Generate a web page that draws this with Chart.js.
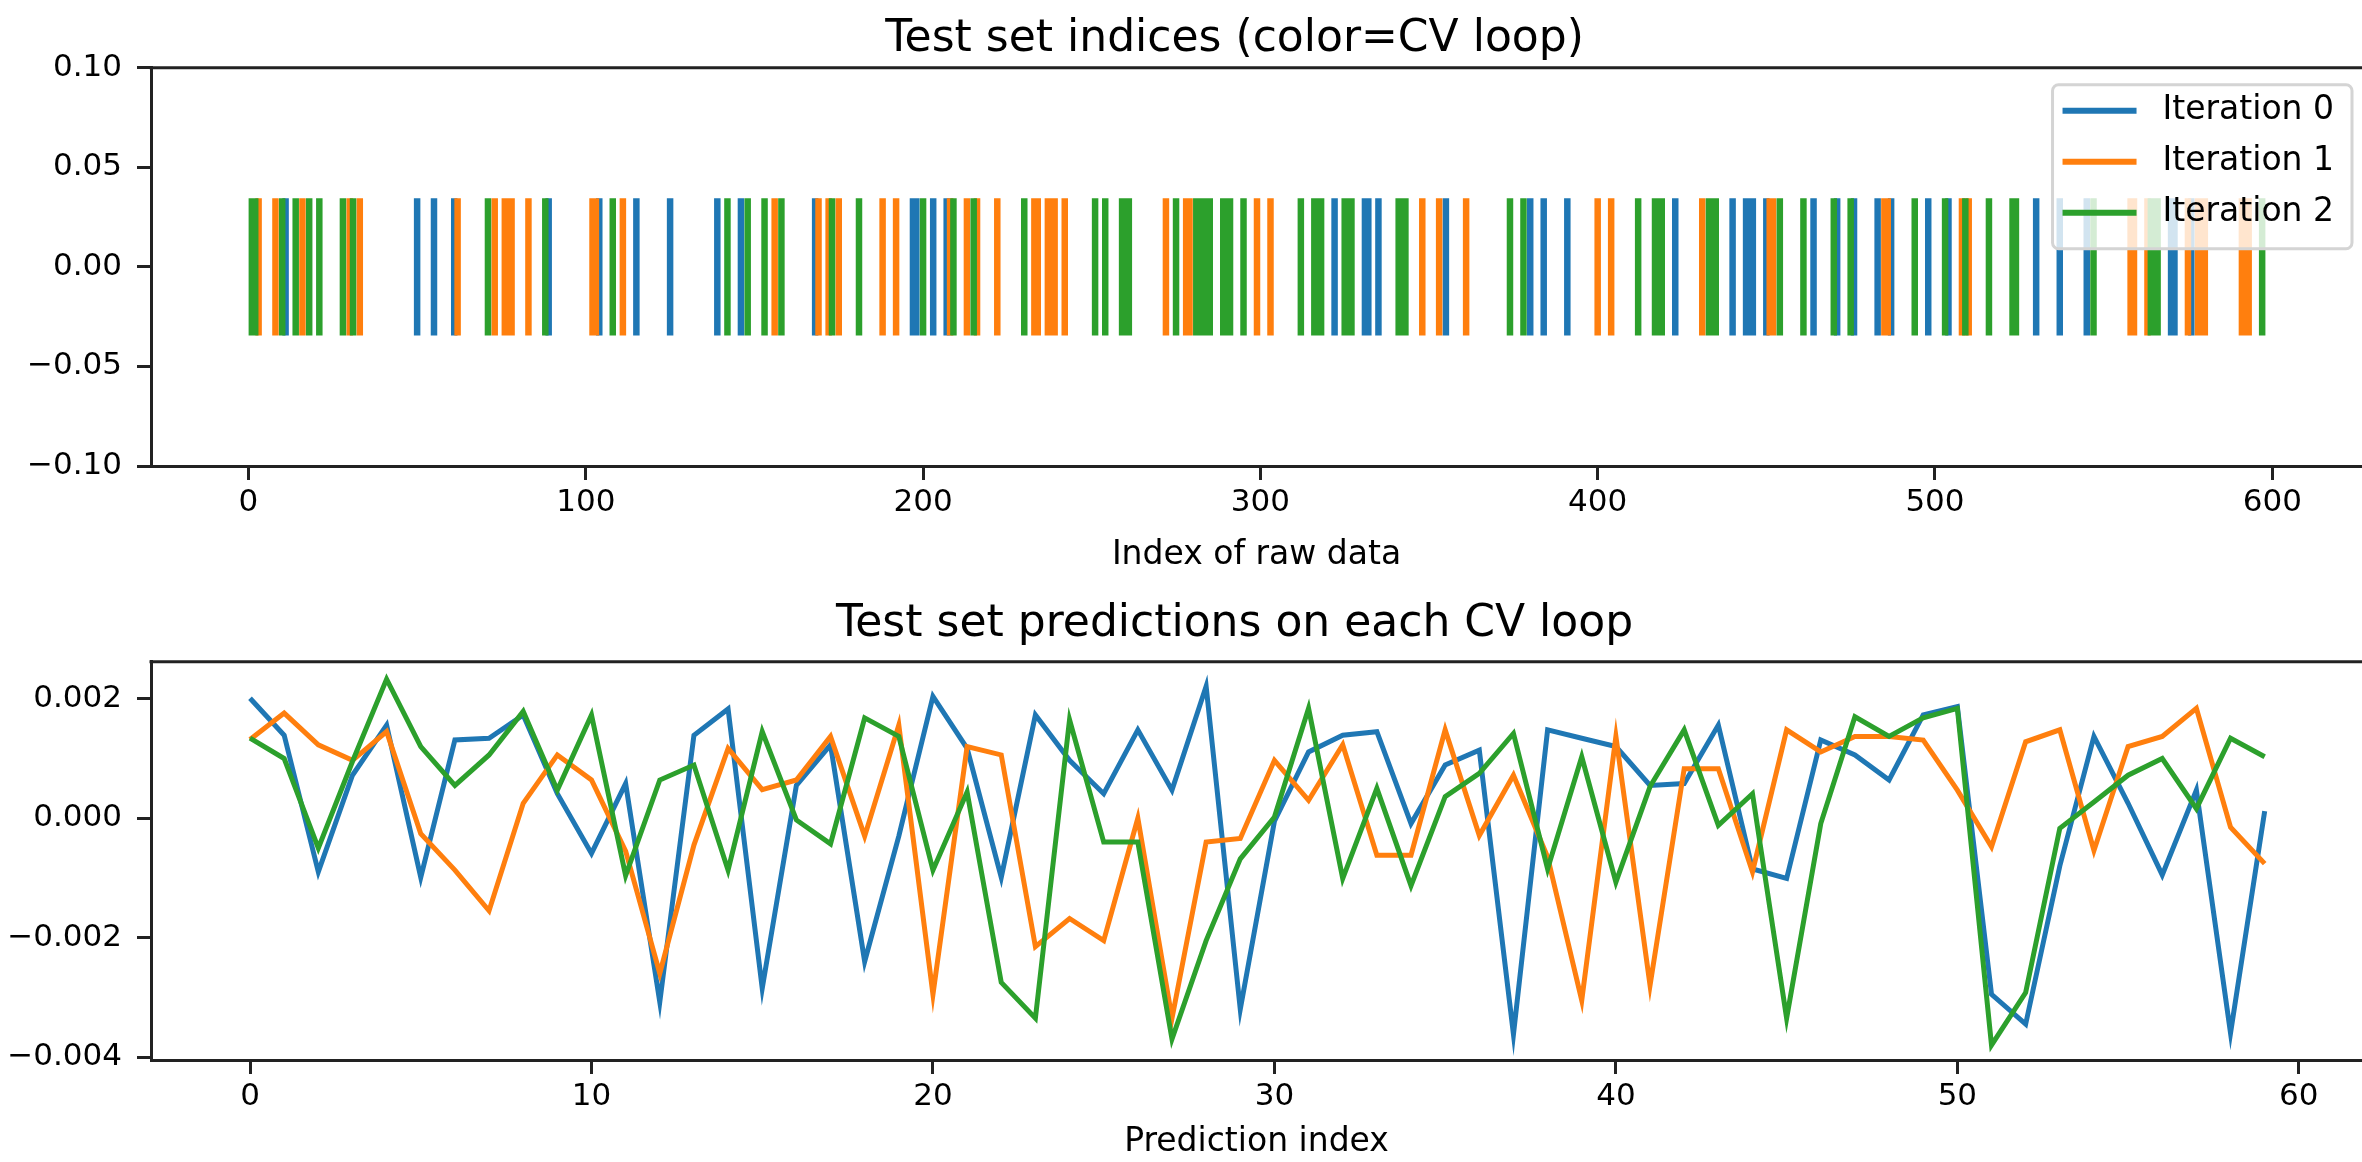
<!DOCTYPE html>
<html lang="en">

<head>
  <meta charset="UTF-8">
  <title>CV loop test sets</title>
  <style>
    body {
      margin: 0;
      background: #fff;
    }

    canvas {
      position: absolute;
      left: 0;
    }

    #indicesChart {
      top: 0;
    }

    #predChart {
      top: 580px;
    }
  </style>
</head>

<body>
  <canvas id="indicesChart" width="2362" height="580"></canvas>
  <canvas id="predChart" width="2362" height="582"></canvas>

  <script src="https://cdn.jsdelivr.net/npm/chart.js"></script>
  <script>
    // raw-data indices that landed in the test set of each CV iteration
    const testIdx0 = [11, 50, 55, 61, 89, 104, 115, 125, 139, 146, 168, 197, 198, 203, 207, 322, 331, 332, 335, 355,
      380, 384, 391, 423, 440, 444, 445, 446, 450, 464, 471, 476, 483, 487, 498, 504, 530, 537, 545, 570, 571, 576];
    const testIdx1 = [3, 8, 16, 30, 33, 62, 73, 76, 77, 78, 83, 102, 103, 111, 156, 169, 172, 175, 188, 192, 208, 213,
      216, 222, 233, 234, 237, 238, 239, 242, 272, 278, 279, 299, 303, 348, 353, 361, 400, 404, 431, 451, 452, 485, 486,
      508, 510, 558, 559, 563, 575, 578, 579, 580, 591, 592, 593];
    const testIdx2 = [1, 2, 10, 14, 18, 21, 28, 31, 71, 88, 108, 142, 148, 153, 158, 173, 181, 200, 209, 215, 230, 251,
      254, 259, 260, 261, 275, 281, 282, 283, 284, 285, 289, 290, 291, 295, 312, 316, 317, 318, 325, 326, 327, 341, 342,
      343, 374, 378, 412, 417, 418, 419, 433, 434, 435, 454, 461, 470, 475, 494, 503, 509, 516, 523, 524, 547, 564, 565,
      566, 597];

    // predictions on the test set, one list per CV iteration
    const pred0 = [0.00201, 0.00139, -0.00090, 0.00072, 0.00156, -0.00099, 0.00131, 0.00134, 0.00173, 0.00041,
      -0.00059, 0.00058, -0.00308, 0.00139, 0.00183, -0.00285, 0.00055, 0.00123, -0.00240, -0.00030,
      0.00204, 0.00117, -0.00099, 0.00173, 0.00097, 0.00041, 0.00148, 0.00047, 0.00221, -0.00320,
      -0.00005, 0.00111, 0.00139, 0.00145, -0.00009, 0.00089, 0.00114, -0.00362, 0.00148, 0.00134,
      0.00120, 0.00055, 0.00058, 0.00156, -0.00085, -0.00101, 0.00131, 0.00106, 0.00064, 0.00173,
      0.00187, -0.00295, -0.00345, -0.00080, 0.00137, 0.00025, -0.00095, 0.00047, -0.00360, 0.00012];
    const pred1 = [0.00132, 0.00176, 0.00123, 0.00097, 0.00145, -0.00026, -0.00087, -0.00155, 0.00025, 0.00106,
      0.00064, -0.00055, -0.00260, -0.00045, 0.00117, 0.00048, 0.00064, 0.00137, -0.00030, 0.00156,
      -0.00295, 0.00120, 0.00106, -0.00215, -0.00168, -0.00205, 0.00000, -0.00335, -0.00040, -0.00034,
      0.00097, 0.00030, 0.00123, -0.00062, -0.00062, 0.00148, -0.00029, 0.00072, -0.00065, -0.00305,
      0.00137, -0.00280, 0.00083, 0.00083, -0.00090, 0.00148, 0.00111, 0.00137, 0.00137, 0.00131,
      0.00047, -0.00048, 0.00128, 0.00148, -0.00054, 0.00120, 0.00137, 0.00184, -0.00015, -0.00076];
    const pred2 = [0.00134, 0.00100, -0.00050, 0.00095, 0.00233, 0.00120, 0.00055, 0.00106, 0.00179, 0.00047,
      0.00173, -0.00096, 0.00064, 0.00089, -0.00087, 0.00145, -0.00003, -0.00043, 0.00168, 0.00137,
      -0.00087, 0.00044, -0.00275, -0.00335, 0.00165, -0.00040, -0.00040, -0.00370, -0.00205, -0.00068,
      0.00002, 0.00184, -0.00101, 0.00050, -0.00113, 0.00036, 0.00075, 0.00142, -0.00085, 0.00103,
      -0.00107, 0.00053, 0.00148, -0.00012, 0.00041, -0.00335, -0.00009, 0.00170, 0.00137, 0.00168,
      0.00184, -0.00380, -0.00292, -0.00017, 0.00027, 0.00072, 0.00100, 0.00016, 0.00134, 0.00103];
    const predIdx = pred0.map((_, i) => i);

    const iterLabels = ['Iteration 0', 'Iteration 1', 'Iteration 2'];
    const colors = ['#1f77b4', '#ff7f0e', '#2ca02c'];

    const FONT = "'DejaVu Sans', sans-serif";
    const INK = '#222';
    const eventHalf = 0.0345;   // each test index is a short vertical line around y = 0

    // matplotlib style minus sign on tick labels
    const fmt = digits => v => v.toFixed(digits).replace('-', '\u2212');

    function xAxis(min, max, step, label, height, labelPad) {
      return {
        type: 'linear',
        min: min,
        max: max,
        afterFit: scale => { scale.height = height; },
        grid: { drawOnChartArea: false, tickLength: 14, tickWidth: 3, color: INK },
        border: { color: INK, width: 3 },
        ticks: { stepSize: step, includeBounds: false, padding: 4, color: '#000', font: { family: FONT, size: 31 }, callback: fmt(0) },
        title: { display: true, text: label, color: '#000', font: { family: FONT, size: 33 }, padding: { top: 0, bottom: labelPad } }
      };
    }

    function yAxis(min, max, step, digits) {
      return {
        type: 'linear',
        min: min,
        max: max,
        afterFit: scale => { scale.width = 151; },
        grid: { drawOnChartArea: false, tickLength: 14, tickWidth: 3, color: INK },
        border: { color: INK, width: 3 },
        ticks: { stepSize: step, includeBounds: false, padding: 15, color: '#000', font: { family: FONT, size: 31 }, callback: fmt(digits) }
      };
    }

    function chartTitle(text, top, bottom) {
      return {
        display: true,
        text: text,
        color: '#000',
        fullSize: false,
        font: { family: FONT, size: 44, weight: 'normal' },
        padding: { top: top, bottom: bottom }
      };
    }

    // pull the title's centre a little to the left of the plot centre
    const titleNudge = {
      id: 'titleNudge',
      afterLayout(chart) {
        if (chart.titleBlock) chart.titleBlock.left -= 44;
      }
    };

    // top spine; the right one sits past the canvas edge
    const topSpine = {
      id: 'topSpine',
      afterDatasetsDraw(chart) {
        const { ctx, chartArea } = chart;
        ctx.save();
        ctx.strokeStyle = INK;
        ctx.lineWidth = 3;
        ctx.beginPath();
        ctx.moveTo(chartArea.left - 1.5, chartArea.top);
        ctx.lineTo(chartArea.right, chartArea.top);
        ctx.stroke();
        ctx.restore();
      }
    };

    // legend box in the upper right corner, drawn over the lines
    const cornerLegend = {
      id: 'cornerLegend',
      afterDatasetsDraw(chart) {
        const { ctx, chartArea } = chart;
        const sets = chart.data.datasets;
        ctx.save();
        ctx.font = '33px ' + FONT;
        const textW = Math.max(...sets.map(d => ctx.measureText(d.label).width));
        const rowH = 51, handle = 74;
        const w = 10 + handle + 26 + textW + 18;
        const h = rowH * sets.length + 11;
        const x = chartArea.right - 10 - w;
        const y = chartArea.top + 17;

        ctx.beginPath();
        ctx.roundRect(x, y, w, h, 6);
        ctx.fillStyle = 'rgba(255,255,255,0.8)';
        ctx.fill();
        ctx.strokeStyle = '#d4d4d4';
        ctx.lineWidth = 3;
        ctx.stroke();

        sets.forEach((d, k) => {
          const cy = y + 26 + k * rowH;
          ctx.strokeStyle = d.borderColor;
          ctx.lineWidth = 6;
          ctx.beginPath();
          ctx.moveTo(x + 10, cy);
          ctx.lineTo(x + 10 + handle, cy);
          ctx.stroke();
          ctx.fillStyle = '#000';
          ctx.textBaseline = 'middle';
          ctx.fillText(d.label, x + 10 + handle + 26, cy);
        });
        ctx.restore();
      }
    };

    // one vertical segment per index, separated by gaps
    function eventLines(idx) {
      const pts = [];
      idx.forEach(i => {
        pts.push({ x: i, y: -eventHalf }, { x: i, y: eventHalf }, { x: i, y: null });
      });
      return pts;
    }

    new Chart(document.getElementById('indicesChart'), {
      type: 'line',
      data: {
        datasets: [testIdx0, testIdx1, testIdx2].map((idx, k) => ({
          label: iterLabels[k],
          data: eventLines(idx),
          borderColor: colors[k],
          borderWidth: 6.5,
          borderCapStyle: 'butt',
          pointRadius: 0,
          spanGaps: false,
          fill: false,
          order: 3 - k
        }))
      },
      options: {
        responsive: false,
        animation: false,
        layout: { padding: 0 },
        plugins: {
          legend: { display: false },
          tooltip: { enabled: false },
          title: chartTitle('Test set indices (color=CV loop)', 13, 2)
        },
        scales: {
          x: xAxis(-28.9, 626.6, 100, 'Index of raw data', 114, 5),
          y: yAxis(-0.1, 0.1, 0.05, 2)
        }
      },
      plugins: [titleNudge, topSpine, cornerLegend]
    });

    new Chart(document.getElementById('predChart'), {
      type: 'line',
      data: {
        datasets: [pred0, pred1, pred2].map((vals, k) => ({
          label: iterLabels[k],
          data: vals.map((v, i) => ({ x: predIdx[i], y: v })),
          borderColor: colors[k],
          borderWidth: 5,
          pointRadius: 0,
          tension: 0,
          fill: false,
          order: 3 - k
        }))
      },
      options: {
        responsive: false,
        animation: false,
        layout: { padding: 0 },
        plugins: {
          legend: { display: false },
          tooltip: { enabled: false },
          title: chartTitle('Test set predictions on each CV loop', 18, 11)
        },
        scales: {
          x: xAxis(-2.9, 61.85, 10, 'Prediction index', 102, 0),
          y: yAxis(-0.00405, 0.00262, 0.002, 3)
        }
      },
      plugins: [titleNudge, topSpine]
    });
  </script>
</body>

</html>
